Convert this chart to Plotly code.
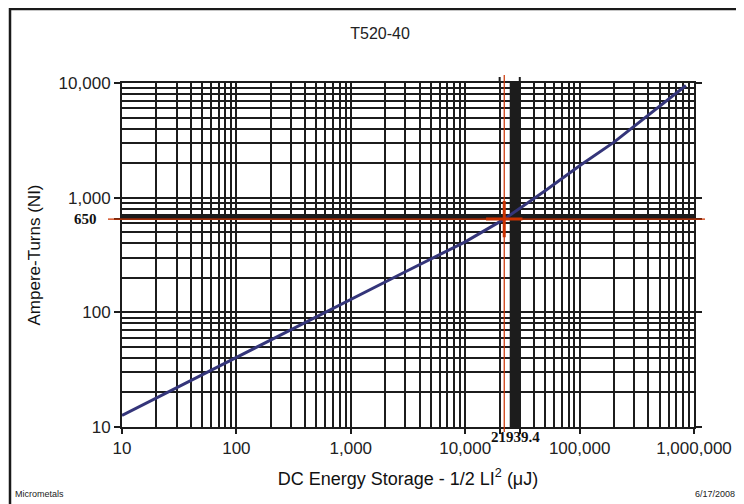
import plotly.graph_objects as go
import math

# ---- data ----
energy_uj = [10, 30, 100, 300, 1000, 3000, 10000, 21939.4, 50000, 100000, 200000, 400000, 600000, 850000]
ampere_turns = [12.6, 22, 40.5, 71, 129, 226, 412, 650, 1150, 1900, 3050, 5250, 7200, 9500]

op_energy = 21939.4
op_ni = 650

x_major = [10, 100, 1000, 10000, 100000, 1000000]
x_major_text = ["10", "100", "1,000", "10,000", "100,000", "1,000,000"]
y_major = [10, 100, 1000, 10000]
y_major_text = ["10", "100", "1,000", "10,000"]

x_minor = [m * 10 ** k for k in range(1, 6) for m in range(2, 10)]
y_minor = [m * 10 ** k for k in range(1, 4) for m in range(2, 10)]

band_x = [24500, 30000]
band_y = [645, 722]
top_ticks = [20000, 30000]

GRID = "#1c1c1c"
RED = "#cc3300"
NAVY = "#34357a"

# page offset (browser body margin) and plot frame in page pixels
W, H = 736, 496
PL, PR, PT, PB = 122, 694, 83, 427


def px(page_x):
    return (page_x - PL) / (PR - PL)


def py(page_y):
    return (PB - page_y) / (PB - PT)


fig = go.Figure()

fig.add_trace(go.Scatter(
    x=energy_uj, y=ampere_turns, mode="lines",
    line=dict(color=NAVY, width=3), hoverinfo="skip", showlegend=False))

fig.add_trace(go.Scatter(
    x=[op_energy], y=[op_ni], mode="markers",
    marker=dict(symbol="cross-thin", size=26, line=dict(width=3, color=RED), color=RED),
    hoverinfo="skip", showlegend=False))

shapes = []
shapes.append(dict(type="rect", xref="x", yref="paper",
                   x0=band_x[0], x1=band_x[1], y0=0, y1=1,
                   fillcolor=GRID, line=dict(width=0), layer="below"))
shapes.append(dict(type="rect", xref="paper", yref="y",
                   x0=0, x1=1, y0=band_y[0], y1=band_y[1],
                   fillcolor=GRID, line=dict(width=0), layer="below"))
shapes.append(dict(type="line", xref="x", yref="paper",
                   x0=op_energy, x1=op_energy, y0=py(432), y1=py(75),
                   line=dict(color=RED, width=1.2), layer="above"))
shapes.append(dict(type="line", xref="paper", yref="y",
                   x0=px(108), x1=px(705), y0=op_ni, y1=op_ni,
                   line=dict(color=RED, width=1.2), layer="above"))
for xv in top_ticks:
    shapes.append(dict(type="line", xref="x", yref="paper",
                       x0=xv, x1=xv, y0=1, y1=py(77),
                       line=dict(color=GRID, width=2)))
shapes.append(dict(type="rect", xref="paper", yref="paper",
                   x0=px(10), x1=px(780), y0=py(540), y1=py(9),
                   line=dict(color="#1a1a1a", width=2.5), fillcolor="rgba(0,0,0,0)"))

annotations = [
    dict(text="<b>650</b>", xref="paper", yref="y", x=px(99), y=math.log10(op_ni),
         xanchor="right", yanchor="middle", showarrow=False,
         font=dict(family="Liberation Serif", size=15, color="#111")),
    dict(text="<b>21939.4</b>", xref="paper", yref="paper", x=px(515), y=py(437),
         xanchor="center", yanchor="middle", showarrow=False,
         font=dict(family="Liberation Serif", size=15, color="#111")),
    dict(text="Micrometals", xref="paper", yref="paper", x=px(13), y=py(494),
         xanchor="left", yanchor="middle", showarrow=False,
         font=dict(family="Liberation Sans", size=9, color="#222")),
    dict(text="6/17/2008", xref="paper", yref="paper", x=px(737), y=py(494),
         xanchor="right", yanchor="middle", showarrow=False,
         font=dict(family="Liberation Sans", size=9, color="#222")),
]

fig.update_layout(
    width=W, height=H,
    margin=dict(l=PL - 8, r=W - (PR - 8), t=PT - 8, b=H - (PB - 8)),
    paper_bgcolor="white", plot_bgcolor="white",
    font=dict(family="Liberation Sans", color="#222"),
    title=dict(text="T520-40", x=(380 - 8) / W, xanchor="center", y=1 - (33 - 8) / H, yanchor="middle",
               font=dict(family="Liberation Sans", size=16, color="#222")),
    shapes=shapes, annotations=annotations,
    showlegend=False,
)

fig.update_xaxes(
    type="log", range=[1, 6],
    tickmode="array", tickvals=x_major + top_ticks,
    ticktext=x_major_text + ["", ""],
    ticks="outside", ticklen=5, tickwidth=2, tickcolor=GRID,
    tickfont=dict(size=17, color="#222"),
    showgrid=True, gridcolor=GRID, gridwidth=2,
    minor=dict(tickmode="array", tickvals=x_minor, showgrid=True, gridcolor=GRID, gridwidth=2, ticks=""),
    showline=True, linecolor=GRID, linewidth=2, mirror=True,
    zeroline=False,
    title=dict(text="DC Energy Storage - 1/2 LI<sup>2</sup> (μJ)", font=dict(size=18, color="#111"), standoff=15),
)

fig.update_yaxes(
    type="log", range=[1, 4],
    tickmode="array", tickvals=y_major + [op_ni],
    ticktext=y_major_text + [""],
    ticks="outside", ticklen=6, tickwidth=2, tickcolor=GRID,
    tickfont=dict(size=17, color="#222"),
    showgrid=True, gridcolor=GRID, gridwidth=2,
    minor=dict(tickmode="array", tickvals=y_minor, showgrid=True, gridcolor=GRID, gridwidth=2, ticks=""),
    showline=True, linecolor=GRID, linewidth=2, mirror="ticks",
    zeroline=False,
    title=dict(text="Ampere-Turns (NI)", font=dict(size=17, color="#111"), standoff=14),
)

fig.write_html("out.html")
